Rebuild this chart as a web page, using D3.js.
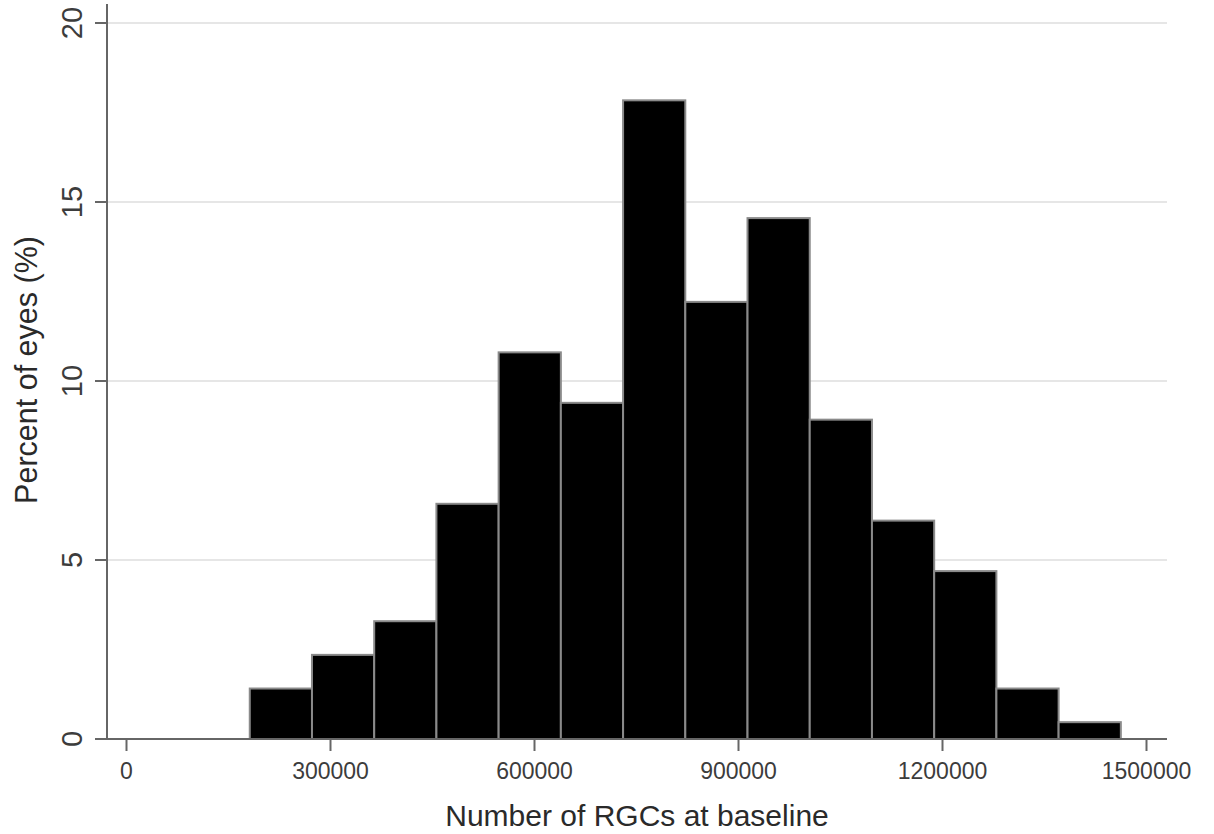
<!DOCTYPE html>
<html>
<head>
<meta charset="utf-8">
<script src="https://cdn.jsdelivr.net/npm/d3@7"></script>
<style>
  body { margin: 0; background: #fff; }
  text { font-family: "Liberation Sans", Arial, sans-serif; }
</style>
</head>
<body>
<svg id="chart" width="1214" height="834"></svg>
<script>
// bin edges (number of RGCs) and percent of eyes in each bin
const binEdges = [182000, 273500, 365000, 456500, 548000, 639500, 731000, 822500,
                  914000, 1005500, 1097000, 1188500, 1280000, 1371500, 1463000];
const percents = [1.41, 2.35, 3.29, 6.57, 10.80, 9.39, 17.84, 12.21, 14.55, 8.92, 6.10, 4.69, 1.41, 0.47];
const xTicks = [0, 300000, 600000, 900000, 1200000, 1500000];
const yTicks = [0, 5, 10, 15, 20];

const bins = percents.map((p, i) => ({ x0: binEdges[i], x1: binEdges[i + 1], pct: p }));

const svg = d3.select('#chart');

// plot box
const box = { left: 107, right: 1167, top: 4, bottom: 739 };

const x = d3.scaleLinear().domain([0, 1500000]).range([126, 1146]);
const y = d3.scaleLinear().domain([0, 20]).range([739, 23]);

// gridlines
svg.append('g')
  .selectAll('line')
  .data(yTicks.filter(d => d > 0))
  .join('line')
    .attr('x1', box.left).attr('x2', box.right)
    .attr('y1', d => y(d)).attr('y2', d => y(d))
    .attr('stroke', '#e6e6e6')
    .attr('stroke-width', 2);

// bars
svg.append('g')
  .selectAll('rect')
  .data(bins)
  .join('rect')
    .attr('x', d => x(d.x0))
    .attr('y', d => y(d.pct))
    .attr('width', d => x(d.x1) - x(d.x0))
    .attr('height', d => y(0) - y(d.pct))
    .attr('fill', '#000')
    .attr('stroke', '#8a8a8a')
    .attr('stroke-width', 2);

// y axis
const yAxis = d3.axisLeft(y).tickValues(yTicks).tickSize(12).tickPadding(12);
const gy = svg.append('g')
  .attr('transform', 'translate(' + box.left + ',0)')
  .call(yAxis);
gy.select('.domain').remove();
gy.selectAll('.tick').attr('transform', null);
gy.selectAll('.tick line')
  .attr('y1', d => y(d)).attr('y2', d => y(d))
  .attr('stroke', '#666').attr('stroke-width', 2);
gy.selectAll('.tick text')
  .attr('font-size', 29)
  .attr('fill', '#3c3c3c')
  .attr('x', -25)
  .attr('y', d => y(d))
  .attr('dy', '0')
  .attr('text-anchor', 'middle')
  .attr('transform', d => 'rotate(-90,' + (-25) + ',' + y(d) + ')');

svg.append('line')
  .attr('x1', box.left).attr('x2', box.left)
  .attr('y1', box.top).attr('y2', box.bottom)
  .attr('stroke', '#666').attr('stroke-width', 2);

// x axis
const xAxis = d3.axisBottom(x).tickValues(xTicks).tickFormat(d3.format('d')).tickSize(12).tickPadding(12);
const gx = svg.append('g')
  .attr('transform', 'translate(0,' + box.bottom + ')')
  .call(xAxis);
gx.select('.domain').remove();
gx.selectAll('.tick line').attr('stroke', '#666').attr('stroke-width', 2);
gx.selectAll('.tick text').attr('font-size', 23).attr('fill', '#3c3c3c');

svg.append('line')
  .attr('x1', box.left - 12).attr('x2', box.right)
  .attr('y1', box.bottom).attr('y2', box.bottom)
  .attr('stroke', '#666').attr('stroke-width', 2);

// axis titles
svg.append('text')
  .attr('x', (box.left + box.right) / 2)
  .attr('y', 826)
  .attr('text-anchor', 'middle')
  .attr('font-size', 30)
  .attr('fill', '#2a2a2a')
  .text('Number of RGCs at baseline');

svg.append('text')
  .attr('transform', 'translate(37,370) rotate(-90)')
  .attr('text-anchor', 'middle')
  .attr('font-size', 30.5)
  .attr('fill', '#2a2a2a')
  .text('Percent of eyes (%)');
</script>
</body>
</html>
